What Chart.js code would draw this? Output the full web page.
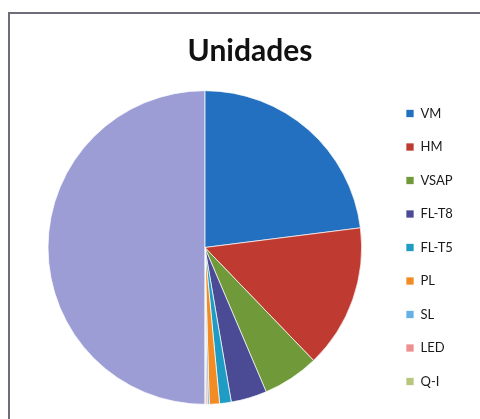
<!DOCTYPE html>
<html>
<head>
<meta charset="utf-8">
<script src="https://cdn.jsdelivr.net/npm/chart.js@4"></script>
<style>
  html, body { margin: 0; padding: 0; background: #fff; }
  #wrap { position: relative; width: 480px; height: 419px; overflow: hidden; }
  #frame {
    position: absolute; left: 8px; top: 12px; width: 500px; height: 500px;
    border: 2px solid #6e6e7a; box-sizing: border-box;
  }
  #graph { position: absolute; left: 0; top: 0; }
</style>
</head>
<body>
<div id="wrap">
  <div id="frame"></div>
  <canvas id="graph" width="480" height="419"></canvas>
</div>
<script>
const categories = ["VM", "HM", "VSAP", "FL-T8", "FL-T5", "PL", "SL", "LED", "Q-I", "Otros"];
const units = [23.0, 14.8, 5.8, 3.7, 1.2, 1.05, 0.2, 0.15, 0.1, 50.0];
const sliceColors = [
  "#2270bf", "#bf3a30", "#70993a", "#4a4b94", "#1e9cc4",
  "#f38b25", "#66b0e4", "#ec9090", "#b7c77e", "#9d9dd6",
];
const legendCount = 9; // the last category is cut off in the original picture

const ctx = document.getElementById("graph");

// put legend and title where they sit in the picture
const placeBoxes = {
  id: "placeBoxes",
  afterLayout(chart) {
    const lg = chart.legend;
    const dx = 406 - (lg.left + lg.options.labels.padding);
    lg.left += dx;
    lg.right += dx;
    lg.top = chart.chartArea.top;
    lg.bottom = chart.chartArea.bottom;
    const t = chart.titleBlock;
    const w = t.right - t.left;
    t.left = 250 - w / 2;
    t.right = 250 + w / 2;
  },
};

new Chart(ctx, {
  type: "pie",
  data: {
    labels: categories,
    datasets: [
      {
        label: "Unidades",
        data: units,
        backgroundColor: sliceColors,
        borderColor: "rgba(255,255,255,0.7)",
        borderWidth: 1,
      },
    ],
  },
  options: {
    responsive: false,
    animation: false,
    layout: { padding: { left: 47.5, right: 40.5, top: 12, bottom: 10 } },
    plugins: {
      title: {
        display: true,
        text: "Unidades",
        color: "#111",
        font: { family: "Lato", size: 30, weight: "bold" },
        padding: { top: 21, bottom: 17 },
      },
      legend: {
        position: "right",
        labels: {
          boxWidth: 8,
          boxHeight: 8,
          padding: 20.5,
          color: "#1a1a1a",
          font: { family: "Lato", size: 13 },
          filter: (item) => item.index < legendCount,
        },
      },
      tooltip: { enabled: false },
    },
  },
  plugins: [placeBoxes],
});
</script>
</body>
</html>
